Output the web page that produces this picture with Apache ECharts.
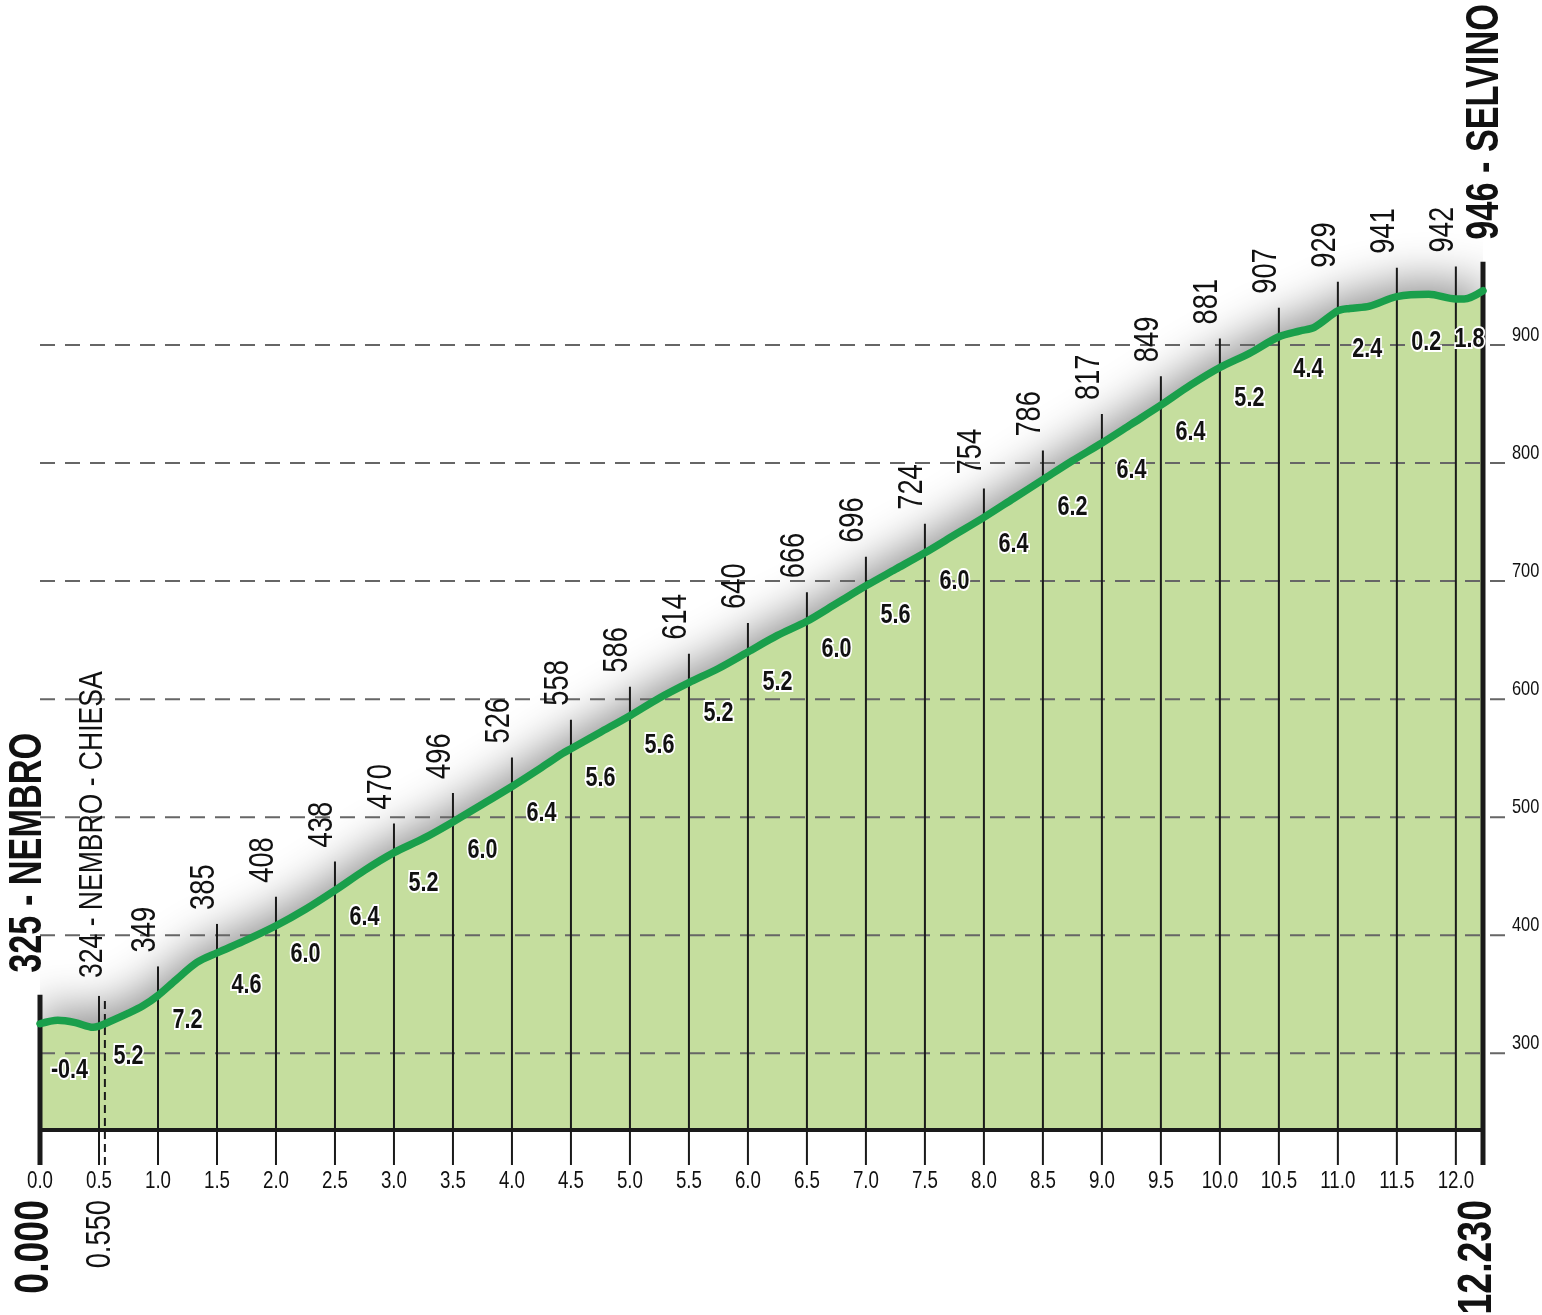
<!DOCTYPE html>
<html><head><meta charset="utf-8">
<script src="https://cdn.jsdelivr.net/npm/echarts@6/dist/echarts.min.js"></script>
<style>html,body{margin:0;padding:0;background:#fff}#c{width:1542px;height:1315px}</style>
</head><body><div id="c"></div>
<script>
// ---------- data ----------
const profileKm = [0, 0.15, 0.3, 0.45, 0.5, 0.55, 0.75, 0.87, 1.0, 1.15, 1.33, 1.5, 1.75, 2.0, 2.25, 2.5, 2.75, 3.0, 3.25, 3.5, 3.75, 4.0, 4.25, 4.43, 4.5, 4.75, 5.0, 5.25, 5.5, 5.75, 6.0, 6.25, 6.5, 6.75, 7.0, 7.25, 7.5, 7.75, 8.0, 8.25, 8.5, 8.75, 9.0, 9.25, 9.5, 9.75, 10.0, 10.25, 10.5, 10.68, 10.8, 11.0, 11.1, 11.27, 11.5, 11.77, 12.0, 12.07, 12.23];
const profileElev = [325, 328, 326, 322, 323, 325, 334, 340, 349, 362, 377, 385, 396, 408, 422, 438, 455, 470, 482, 496, 511, 526, 542, 554, 558, 572, 586, 601, 614, 626, 640, 654, 666, 681, 696, 710, 724, 739, 754, 770, 786, 802, 817, 833, 849, 866, 881, 893, 907, 912, 915, 929, 931, 933, 941, 943, 939, 939, 946];

const tickKm = [0.5, 1.0, 1.5, 2.0, 2.5, 3.0, 3.5, 4.0, 4.5, 5.0, 5.5, 6.0, 6.5, 7.0, 7.5, 8.0, 8.5, 9.0, 9.5, 10.0, 10.5, 11.0, 11.5, 12.0];
const tickElev = [324, 349, 385, 408, 438, 470, 496, 526, 558, 586, 614, 640, 666, 696, 724, 754, 786, 817, 849, 881, 907, 929, 941, 942];

const xTickKm = [0, 0.5, 1.0, 1.5, 2.0, 2.5, 3.0, 3.5, 4.0, 4.5, 5.0, 5.5, 6.0, 6.5, 7.0, 7.5, 8.0, 8.5, 9.0, 9.5, 10.0, 10.5, 11.0, 11.5, 12.0];
const xTickLabels = ['0.0', '0.5', '1.0', '1.5', '2.0', '2.5', '3.0', '3.5', '4.0', '4.5', '5.0', '5.5', '6.0', '6.5', '7.0', '7.5', '8.0', '8.5', '9.0', '9.5', '10.0', '10.5', '11.0', '11.5', '12.0'];

const placeKm = [0, 0.55, 12.23];
const placeElev = [325, 324, 946];
const placeNames = ['325 - NEMBRO', '324 - NEMBRO - CHIESA', '946 - SELVINO'];
const placeDist = ['0.000', '0.550', '12.230'];

const segBounds = [0, 0.5, 1.0, 1.5, 2.0, 2.5, 3.0, 3.5, 4.0, 4.5, 5.0, 5.5, 6.0, 6.5, 7.0, 7.5, 8.0, 8.5, 9.0, 9.5, 10.0, 10.5, 11.0, 11.5, 12.0, 12.23];
const segElev = [325, 324, 349, 385, 408, 438, 470, 496, 526, 558, 586, 614, 640, 666, 696, 724, 754, 786, 817, 849, 881, 907, 929, 941, 942, 946];
const gradients = ['-0.4', '5.2', '7.2', '4.6', '6.0', '6.4', '5.2', '6.0', '6.4', '5.6', '5.6', '5.2', '5.2', '6.0', '5.6', '6.0', '6.4', '6.2', '6.4', '6.4', '5.2', '4.4', '2.4', '0.2', '1.8'];

const yTicks = [300, 400, 500, 600, 700, 800, 900];
const X_MAX = 12.23, Y_MIN = 235, Y_MAX = 1000;

// ---------- style ----------
const FONT = "'Liberation Sans', Arial, sans-serif";
const SQ = 0.78; // horizontal condensing of text
const GREEN = '#1a9f4b', FILL = '#c5de9e', INK = '#1a1a1a';

function txt(x, y, text, o) {
  o = o || {};
  const el = {
    type: 'text', x: x, y: y, scaleX: o.sq || SQ, scaleY: 1,
    rotation: o.rot ? Math.PI / 2 : 0,
    style: {
      text: text, fontSize: o.size || 20, fontWeight: o.bold ? 'bold' : 'normal', fontFamily: FONT,
      fill: o.fill || '#111', align: o.align || 'left', verticalAlign: o.va || 'middle'
    }
  };
  if (o.halo) { el.style.stroke = '#fff'; el.style.lineWidth = o.halo; }
  return el;
}

const tickText = tickKm.map((k, i) => placeKm.some(p => Math.abs(p - k) < 0.1) ? '' : String(tickElev[i]));
const gradData = gradients.map((g, i) => [(segBounds[i] + segBounds[i + 1]) / 2, (segElev[i] + segElev[i + 1]) / 2]);

const chart = echarts.init(document.getElementById('c'), null, {renderer: 'canvas'});
chart.setOption({
  animation: false,
  backgroundColor: '#fff',
  grid: {left: 40, right: 59, top: 227, bottom: 185},
  xAxis: {
    type: 'value', min: 0, max: X_MAX, interval: 0.5,
    axisLine: {show: false}, axisTick: {show: false}, splitLine: {show: false}, axisLabel: {show: false}
  },
  yAxis: {type: 'value', min: Y_MIN, max: Y_MAX, show: false},
  series: [
    { // area with upward shadow
      type: 'line', z: 1, clip: false, smooth: 0.3, symbol: 'none', silent: true,
      data: profileKm.map((k, i) => [k, profileElev[i]]),
      lineStyle: {width: 0, opacity: 0},
      areaStyle: {color: FILL, opacity: 1, shadowColor: 'rgba(0,0,0,0.45)', shadowBlur: 46, shadowOffsetY: -13}
    },
    { // white mask below the baseline, baseline, x labels
      type: 'custom', z: 2, silent: true,
      data: xTickKm.map(k => [k, Y_MIN]),
      renderItem: (params, api) => {
        const p = api.coord([api.value(0), Y_MIN]);
        const ch = [txt(p[0], p[1] + 51, xTickLabels[params.dataIndex], {size: 24, align: 'center'})];
        if (params.dataIndex === 0) {
          const pe = api.coord([X_MAX, Y_MIN]);
          ch.unshift(
            {type: 'rect', shape: {x: 0, y: p[1], width: 1542, height: 200}, style: {fill: '#fff'}},
            {type: 'line', shape: {x1: p[0], y1: p[1], x2: pe[0], y2: p[1]}, style: {stroke: INK, lineWidth: 4}}
          );
        }
        return {type: 'group', children: ch};
      }
    },
    { // horizontal dashed grid + labels
      type: 'custom', z: 3, silent: true,
      data: yTicks.map(v => [0, v]),
      renderItem: (params, api) => {
        const p0 = api.coord([0, api.value(1)]);
        const p1 = api.coord([X_MAX, api.value(1)]);
        const xEnd = p1[0] + 24;
        return {type: 'group', children: [
          {type: 'line', shape: {x1: p0[0], y1: p0[1], x2: xEnd, y2: p0[1]}, style: {stroke: '#666', lineWidth: 2, lineDash: [15, 10]}},
          txt(xEnd + 5, p0[1] - 10, String(yTicks[params.dataIndex]), {size: 21})
        ]};
      }
    },
    { // vertical km lines + elevation labels
      type: 'custom', z: 4, silent: true,
      data: tickKm.map((k, i) => [k, tickElev[i]]),
      renderItem: (params, api) => {
        const i = params.dataIndex;
        const p = api.coord([api.value(0), api.value(1)]);
        const base = api.coord([api.value(0), Y_MIN]);
        const top = p[1] - 29;
        const ch = [{type: 'line', shape: {x1: p[0], y1: base[1] + 35, x2: p[0], y2: top}, style: {stroke: INK, lineWidth: 2}}];
        if (tickText[i]) ch.push(txt(p[0] - 13, top - 14, tickText[i], {size: 35, rot: true}));
        return {type: 'group', children: ch};
      }
    },
    { // places (start, intermediate, finish)
      type: 'custom', z: 4, silent: true,
      data: placeKm.map((k, i) => [k, placeElev[i]]),
      renderItem: (params, api) => {
        const i = params.dataIndex;
        const last = placeKm.length - 1;
        const major = (i === 0 || i === last);
        const p = api.coord([api.value(0), api.value(1)]);
        const base = api.coord([api.value(0), Y_MIN]);
        const top = p[1] - (major ? 29 : 25);
        const dx = i === last ? 2 : -12;
        return {type: 'group', children: [
          {type: 'line', shape: {x1: p[0], y1: base[1] + 35, x2: p[0], y2: top},
            style: major ? {stroke: INK, lineWidth: 5} : {stroke: INK, lineWidth: 2, lineDash: [8, 5]}},
          txt(p[0] + dx, top - 22, placeNames[i], {size: major ? 46 : 34, bold: major, rot: true, sq: major ? 0.745 : SQ}),
          txt(p[0] - 5, base[1] + 70, placeDist[i], {size: major ? 48 : 35, bold: major, rot: true, align: 'right'})
        ]};
      }
    },
    { // green profile line
      type: 'line', z: 5, clip: false, smooth: 0.3, symbol: 'none', silent: true,
      data: profileKm.map((k, i) => [k, profileElev[i]]),
      lineStyle: {color: GREEN, width: 7.5, cap: 'round', join: 'round'}
    },
    { // gradient labels
      type: 'custom', z: 6, silent: true,
      data: gradData,
      renderItem: (params, api) => {
        const p = api.coord([api.value(0), api.value(1)]);
        return txt(p[0], p[1] + 46, gradients[params.dataIndex], {size: 27, bold: true, align: 'center', halo: 4, sq: 0.8});
      }
    }
  ]
});
</script>
</body></html>
